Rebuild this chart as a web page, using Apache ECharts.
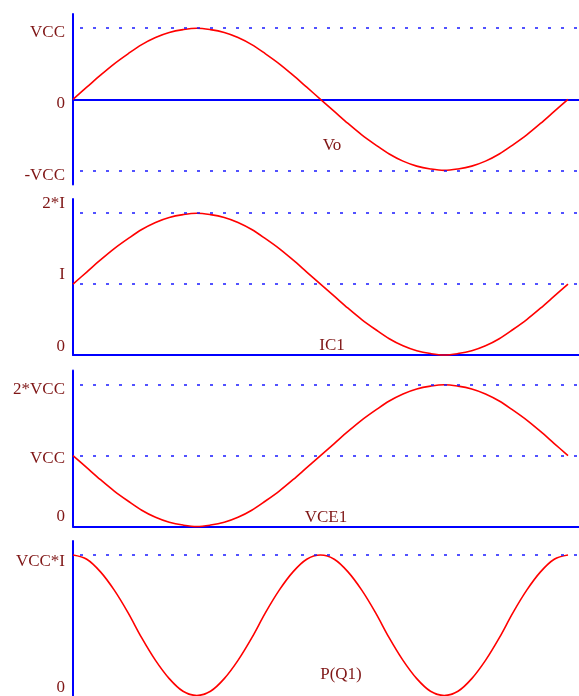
<!DOCTYPE html>
<html>
<head>
<meta charset="utf-8">
<style>html,body{margin:0;padding:0;background:#fff;}#c{width:579px;height:696px;}</style>
<script src="https://cdn.jsdelivr.net/npm/echarts@6/dist/echarts.min.js"></script>
</head>
<body>
<div id="c"></div>
<script>
// phase angle in degrees
var xDeg = [0,10,20,30,40,50,60,70,80,90,100,110,120,130,140,150,160,170,180,190,200,210,220,230,240,250,260,270,280,290,300,310,320,330,340,350,360];
// Vo in units of VCC
var vo   = [0,0.17,0.34,0.5,0.64,0.77,0.87,0.94,0.98,1,0.98,0.94,0.87,0.77,0.64,0.5,0.34,0.17,0,-0.17,-0.34,-0.5,-0.64,-0.77,-0.87,-0.94,-0.98,-1,-0.98,-0.94,-0.87,-0.77,-0.64,-0.5,-0.34,-0.17,0];
// IC1 in units of I
var ic1  = [1,1.17,1.34,1.5,1.64,1.77,1.87,1.94,1.98,2,1.98,1.94,1.87,1.77,1.64,1.5,1.34,1.17,1,0.83,0.66,0.5,0.36,0.23,0.13,0.06,0.02,0,0.02,0.06,0.13,0.23,0.36,0.5,0.66,0.83,1];
// VCE1 in units of VCC
var vce1 = [1,0.83,0.66,0.5,0.36,0.23,0.13,0.06,0.02,0,0.02,0.06,0.13,0.23,0.36,0.5,0.66,0.83,1,1.17,1.34,1.5,1.64,1.77,1.87,1.94,1.98,2,1.98,1.94,1.87,1.77,1.64,1.5,1.34,1.17,1];
// P(Q1) in units of VCC*I
var pq1  = [1,0.97,0.88,0.75,0.59,0.41,0.25,0.12,0.03,0,0.03,0.12,0.25,0.41,0.59,0.75,0.88,0.97,1,0.97,0.88,0.75,0.59,0.41,0.25,0.12,0.03,0,0.03,0.12,0.25,0.41,0.59,0.75,0.88,0.97,1];

var seriesNames = ['Vo','IC1','VCE1','P(Q1)'];
// tick label values and texts per panel
var tickVals1 = [1,0,-1];      var tickTxt1 = ['VCC','0','-VCC'];
var tickVals2 = [2,1,0];       var tickTxt2 = ['2*I','I','0'];
var tickVals3 = [2,1,0];       var tickTxt3 = ['2*VCC','VCC','0'];
var tickVals4 = [1,0];         var tickTxt4 = ['VCC*I','0'];
// dotted reference levels per panel
var ref1 = [1,-1];
var ref2 = [2,1];
var ref3 = [2,1];
var ref4 = [1];

var FONT = "'Liberation Serif','Times New Roman',serif";
var TXT = '#7f1616';
var BLUE = '#0000ff';

var panels = [
  {vals: vo,   ticks: tickVals1, txt: tickTxt1, refs: ref1, min: -1.2, max: 1.2, top: 14,  h: 170.6, off: [4,4,5],    name: seriesNames[0], lx: 332, ly: 146, onZero: true, xLine: true},
  {vals: ic1,  ticks: tickVals2, txt: tickTxt2, refs: ref2, min: 0, max: 2.2,    top: 199, h: 156,   off: [-10,-10,-8], name: seriesNames[1], lx: 332, ly: 346, xLine: true},
  {vals: vce1, ticks: tickVals3, txt: tickTxt3, refs: ref3, min: 0, max: 2.2,    top: 370.5, h: 156, off: [5,3,-10],  name: seriesNames[2], lx: 326, ly: 518, xLine: true},
  {vals: pq1,  ticks: tickVals4, txt: tickTxt4, refs: ref4, min: 0, max: 1.1,    top: 541, h: 156,   off: [6,-8],     name: seriesNames[3], lx: 341, ly: 675, xLine: false}
];

var grids = [], xAxes = [], yAxes = [], series = [], graphics = [];
panels.forEach(function(p, i){
  grids.push({left: 73, right: 0, top: p.top, height: p.h, containLabel: false});
  xAxes.push({
    type: 'value', gridIndex: i, min: 0, max: 368,
    axisLine: {show: p.xLine, onZero: !!p.onZero, lineStyle: {color: BLUE, width: 2}},
    axisTick: {show: false}, axisLabel: {show: false}, splitLine: {show: false}
  });
  var rich = {};
  p.off.forEach(function(d, k){
    var pad = d >= 0 ? [2*d,0,0,0] : [0,0,-2*d,0];
    rich['r'+k] = {padding: pad, fontFamily: FONT, fontSize: 17, color: TXT};
  });
  yAxes.push({
    type: 'value', gridIndex: i, min: p.min, max: p.max,
    axisLine: {show: true, onZero: false, lineStyle: {color: BLUE, width: 2}},
    axisTick: {show: false},
    splitLine: {show: false},
    axisLabel: {
      show: true, margin: 8, customValues: p.ticks,
      fontFamily: FONT, fontSize: 17, color: TXT,
      formatter: (function(pp){ return function(v){
        var k = -1;
        for (var j = 0; j < pp.ticks.length; j++) { if (Math.abs(pp.ticks[j]-v) < 1e-6) k = j; }
        if (k < 0) return '';
        return '{r'+k+'|'+pp.txt[k]+'}';
      };})(p),
      rich: rich
    }
  });
  series.push({
    type: 'line', name: p.name, xAxisIndex: i, yAxisIndex: i,
    data: xDeg.map(function(x, j){ return [x, p.vals[j]]; }),
    smooth: 0.35, symbol: 'none', silent: true, clip: false,
    lineStyle: {color: '#ff0000', width: 1.6},
    markLine: {
      silent: true, symbol: 'none', animation: false,
      label: {show: false},
      emphasis: {disabled: true},
      lineStyle: {color: '#1a1aff', width: 1.5, type: [3,10], dashOffset: -7, opacity: 1},
      data: p.refs.map(function(r){ return {yAxis: r, lineStyle: {color: '#1a1aff'}}; })
    },
    z: 3
  });
  graphics.push({
    type: 'text', x: p.lx, y: p.ly, silent: true,
    style: {text: p.name, font: '17px ' + FONT, fill: TXT, textAlign: 'center', textVerticalAlign: 'middle'}
  });
});

var chart = echarts.init(document.getElementById('c'), null, {renderer: 'canvas'});
chart.setOption({
  animation: false,
  backgroundColor: '#ffffff',
  grid: grids, xAxis: xAxes, yAxis: yAxes, series: series,
  graphic: graphics
});
</script>
</body>
</html>
